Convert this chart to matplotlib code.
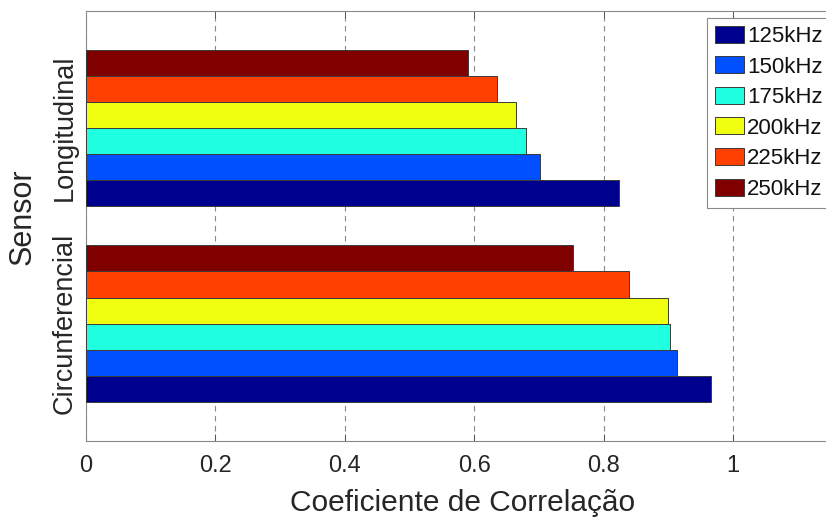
import numpy as np
import matplotlib
matplotlib.use("Agg")
import matplotlib.pyplot as plt

# Correlation coefficient per sensor orientation and excitation frequency
sensors = ["Circunferencial", "Longitudinal"]
frequencies = ["125kHz", "150kHz", "175kHz", "200kHz", "225kHz", "250kHz"]
circunferencial = [0.966, 0.913, 0.902, 0.900, 0.839, 0.753]
longitudinal = [0.824, 0.701, 0.680, 0.665, 0.635, 0.591]
x_ticks = [0, 0.2, 0.4, 0.6, 0.8, 1]
x_tick_labels = ["0", "0.2", "0.4", "0.6", "0.8", "1"]

colors = ["#00008F", "#0050FF", "#20FFE0", "#F0FF10", "#FF4000", "#800000"]

plt.rcParams["font.family"] = ["Liberation Sans", "DejaVu Sans"]
text_color = "#262626"

W, H = 826, 522
fig = plt.figure(figsize=(W / 100, H / 100), dpi=100)
xmax = 1.165
ax_left, ax_bottom, ax_top = 86, 441, 10.5
ax_w = 647 * xmax
ax = fig.add_axes([ax_left / W, 1 - ax_bottom / H, ax_w / W, (ax_bottom - ax_top) / H])

pos = np.arange(1, len(sensors) + 1)
n = len(frequencies)
group_w = 0.8
bar_h = group_w / n
values = np.array([circunferencial, longitudinal]).T  # shape (freq, sensor)

for i, (freq, col) in enumerate(zip(frequencies, colors)):
    offset = -group_w / 2 + (i + 0.5) * bar_h
    ax.barh(pos + offset, values[i], height=bar_h, color=col,
            edgecolor="#3a3a3a", linewidth=0.7, label=freq, zorder=3)

ax.set_xlim(0, xmax)
ax.set_ylim(0.4, 2.6)
ax.set_xticks(x_ticks)
ax.set_xticklabels(x_tick_labels)
ax.set_yticks(pos)
ax.set_yticklabels(sensors, rotation=90, va="center")

ax.grid(axis="x", color="#8a8a8a", linestyle=(0, (5, 4)), linewidth=0.8, zorder=0)
ax.tick_params(axis="both", direction="in", length=5, width=0.7, colors="#555555",
               labelcolor=text_color, top=True, right=True)
ax.tick_params(axis="x", labelsize=17, pad=10)
ax.tick_params(axis="y", labelsize=19.5, pad=6)
for s in ax.spines.values():
    s.set_color("#8a8a8a")
    s.set_linewidth(0.8)

ax.set_xlabel("Coeficiente de Correlação", fontsize=21.5, color=text_color, labelpad=9)
ax.set_ylabel("Sensor", fontsize=22, color=text_color)
ax.yaxis.set_label_coords(-0.064, 0.52)

leg = ax.legend(loc="upper left", bbox_to_anchor=(707 / W, 1 - 18 / H),
                bbox_transform=fig.transFigure, borderaxespad=0,
                fontsize=16, handlelength=1.3, handleheight=0.8,
                handletextpad=0.15, labelspacing=0.42, borderpad=0.35,
                frameon=True, fancybox=False, framealpha=1)
leg.get_frame().set_edgecolor("#8a8a8a")
leg.get_frame().set_linewidth(0.8)
for t in leg.get_texts():
    t.set_color("#111111")

fig.savefig("out.png", dpi=100)
